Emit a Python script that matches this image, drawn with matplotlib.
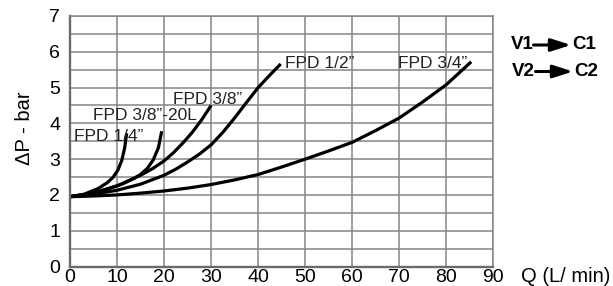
import matplotlib
matplotlib.use("Agg")
import matplotlib.pyplot as plt
from matplotlib.ticker import MultipleLocator

plt.rcParams['font.family'] = ['Liberation Sans', 'DejaVu Sans']

# ---- data ----
q_14 = [0, 3, 6, 8, 9.2, 10.2, 11, 11.6, 12.05]
p_14 = [1.95, 2.02, 2.18, 2.35, 2.5, 2.7, 2.96, 3.3, 3.72]

q_38_20l = [0, 4, 8, 11, 13, 14.9, 16.5, 17.7, 18.8, 19.5]
p_38_20l = [1.95, 2.03, 2.17, 2.3, 2.42, 2.56, 2.75, 2.98, 3.32, 3.78]

q_38 = [0, 5, 10, 15, 17.5, 20, 22, 24, 26, 28, 30]
p_38 = [1.95, 2.05, 2.25, 2.55, 2.73, 2.95, 3.18, 3.45, 3.75, 4.1, 4.5]

q_12 = [0, 5, 10, 15, 20, 22.5, 25, 27.5, 30, 32.5, 35, 37.5, 40, 42.5, 44.8]
p_12 = [1.95, 2.02, 2.13, 2.3, 2.55, 2.72, 2.92, 3.14, 3.4, 3.75, 4.15, 4.58,
        5.0, 5.35, 5.66]

q_34 = [0, 5, 10, 15, 20, 25, 30, 35, 40, 45, 50, 55, 60, 65, 70, 75, 80, 85.3]
p_34 = [1.95, 1.97, 2.0, 2.05, 2.11, 2.19, 2.29, 2.42, 2.57, 2.78, 3.0, 3.23,
        3.47, 3.8, 4.15, 4.6, 5.08, 5.72]

series = [
    (q_14, p_14, 'FPD 1/4”', (0.85, 3.64)),
    (q_38_20l, p_38_20l, 'FPD 3/8”-20L', (4.96, 4.21)),
    (q_38, p_38, 'FPD 3/8”', (21.97, 4.68)),
    (q_12, p_12, 'FPD 1/2”', (45.7, 5.68)),
    (q_34, p_34, 'FPD 3/4”', (69.8, 5.68)),
]

x_ticks = [0, 10, 20, 30, 40, 50, 60, 70, 80, 90]
y_ticks = [0, 1, 2, 3, 4, 5, 6, 7]

W, H = 613, 286
fig = plt.figure(figsize=(W / 100, H / 100), dpi=100)
ax = fig.add_axes([70 / W, 1 - 266.5 / H, (493.3 - 70) / W, (266.5 - 16) / H])

ax.set_xlim(0, 90)
ax.set_ylim(0, 7)
ax.set_xticks(x_ticks)
ax.set_yticks(y_ticks)
ax.yaxis.set_minor_locator(MultipleLocator(0.5))
ax.grid(True, which='both', color='#858585', lw=1.1)
ax.set_axisbelow(True)
ax.tick_params(which='both', length=0)
ax.tick_params(axis='x', pad=2, labelsize=14)
ax.tick_params(axis='y', pad=7, labelsize=14)
for s in ax.spines.values():
    s.set_color('#858585')
    s.set_linewidth(1.1)
ax.spines['left'].set_color('#6a6a6a')
ax.spines['left'].set_linewidth(1.7)
ax.spines['bottom'].set_color('#6a6a6a')
ax.spines['bottom'].set_linewidth(1.7)

for q, p, name, (tx, ty) in series:
    ax.plot(q, p, color='black', lw=2.3, solid_capstyle='butt', solid_joinstyle='round')
    ax.text(tx, ty, name, fontsize=12.5, ha='left', va='center', color='#222222')

fig.text(25 / W, 1 - 128 / H, 'ΔP - bar', rotation=90, ha='center', va='center', fontsize=14.5)
fig.text(521 / W, 1 - 276 / H, 'Q (L/ min)', ha='left', va='center', fontsize=14.5)

# valve / cylinder legend
for lab_l, lab_r, y, xl, xa0, xa1, xr in [
        ('V1', 'C1', 45, 510.5, 533.5, 571, 572),
        ('V2', 'C2', 71.5, 512, 535.5, 573, 574)]:
    yf = 1 - y / H
    fig.text(xl / W, yf, lab_l, ha='left', va='center', fontsize=13.5, fontweight='bold')
    fig.text(xr / W, yf, lab_r, ha='left', va='center', fontsize=13.5, fontweight='bold')
    fig.patches.append(matplotlib.patches.FancyArrowPatch(
        (xa0 / W, yf), (xa1 / W, yf), transform=fig.transFigure,
        arrowstyle='-|>,head_length=1.0,head_width=0.32', mutation_scale=12,
        lw=2.2, color='black', shrinkA=0, shrinkB=0))

fig.savefig('out.png', dpi=100)
